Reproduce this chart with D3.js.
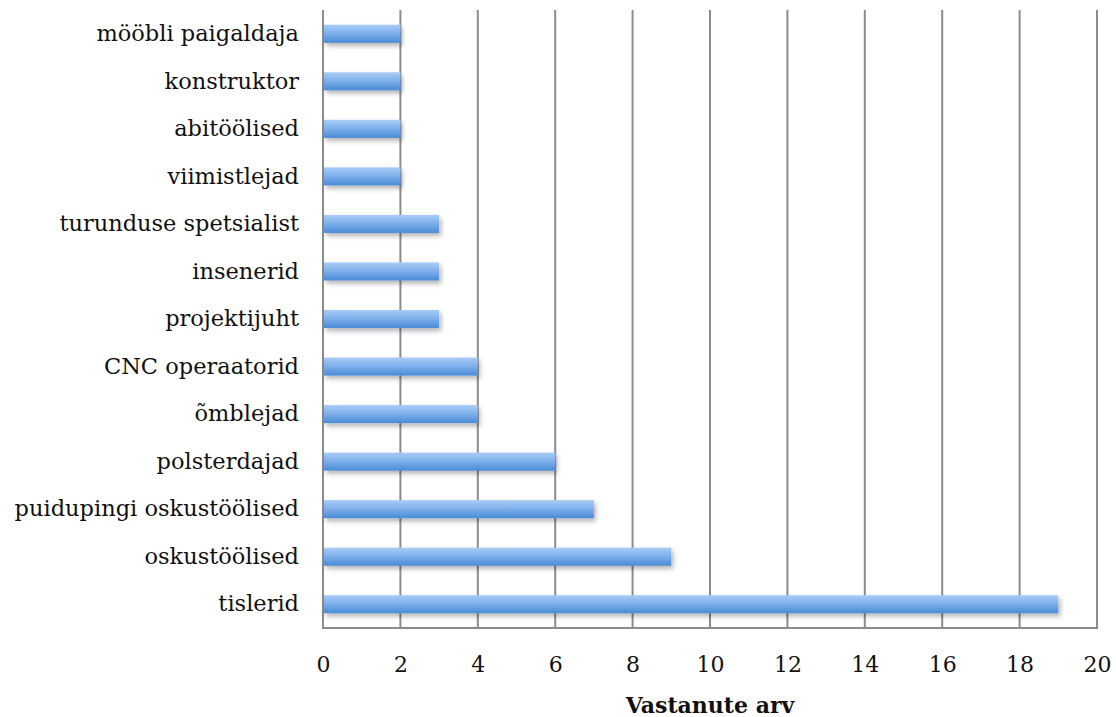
<!DOCTYPE html>
<html>
<head>
<meta charset="utf-8">
<script src="https://cdn.jsdelivr.net/npm/d3@7"></script>
<style>
  html, body { margin: 0; padding: 0; background: #fff; }
  svg { display: block; }
</style>
</head>
<body>
<svg id="chart" width="1116" height="717"></svg>
<script>
// Ametid (ülevalt alla) ja vastanute arv
const categories = [
  "mööbli paigaldaja", "konstruktor", "abitöölised", "viimistlejad",
  "turunduse spetsialist", "insenerid", "projektijuht", "CNC operaatorid",
  "õmblejad", "polsterdajad", "puidupingi oskustöölised", "oskustöölised", "tislerid"
];
const counts = [2, 2, 2, 2, 3, 3, 3, 4, 4, 6, 7, 9, 19];
const xTicks = [0, 2, 4, 6, 8, 10, 12, 14, 16, 18, 20];
const xTitle = "Vastanute arv";

const svg = d3.select("#chart");
const margin = { top: 10, right: 19, bottom: 89, left: 323 };
const W = 1116, H = 717;
const iw = W - margin.left - margin.right;
const ih = H - margin.top - margin.bottom;
const FONT = "'DejaVu Serif', serif";

const defs = svg.append("defs");
const grad = defs.append("linearGradient")
  .attr("id", "barGrad").attr("x1", 0).attr("y1", 0).attr("x2", 0).attr("y2", 1);
grad.append("stop").attr("offset", "0%").attr("stop-color", "#a9ccf6");
grad.append("stop").attr("offset", "45%").attr("stop-color", "#80b1ec");
grad.append("stop").attr("offset", "100%").attr("stop-color", "#4a8bd6");

const shadow = defs.append("filter").attr("id", "barShadow")
  .attr("x", "-5%").attr("y", "-50%").attr("width", "110%").attr("height", "220%");
shadow.append("feDropShadow")
  .attr("dx", 2).attr("dy", 3).attr("stdDeviation", 2.5)
  .attr("flood-color", "#000").attr("flood-opacity", 0.3);

const g = svg.append("g").attr("transform", `translate(${margin.left},${margin.top})`);

const x = d3.scaleLinear().domain([0, 20]).range([0, iw]);
const y = d3.scaleBand().domain(categories).range([0, ih]).paddingInner(0.62).paddingOuter(0.31);

// vertikaalsed ruudujooned
g.append("g")
  .selectAll("line")
  .data(xTicks)
  .join("line")
  .attr("x1", d => x(d)).attr("x2", d => x(d))
  .attr("y1", 0).attr("y2", ih)
  .attr("stroke", "#8c8c8c").attr("stroke-width", 2);

// alumine telg
g.append("line")
  .attr("x1", x(0) - 1).attr("x2", x(20) + 1)
  .attr("y1", ih).attr("y2", ih)
  .attr("stroke", "#8c8c8c").attr("stroke-width", 2);

// tulbad
g.append("g")
  .selectAll("rect")
  .data(categories.map((c, i) => ({ c, v: counts[i] })))
  .join("rect")
  .attr("x", x(0) + 1)
  .attr("y", d => y(d.c))
  .attr("width", d => x(d.v) - x(0) - 1)
  .attr("height", y.bandwidth())
  .attr("fill", "url(#barGrad)")
  .attr("filter", "url(#barShadow)");

// x-telje märgised
const xAxis = d3.axisBottom(x).tickValues(xTicks).tickSize(0).tickPadding(28);
const xa = g.append("g").attr("transform", `translate(0,${ih})`).call(xAxis);
xa.select(".domain").remove();
xa.selectAll("text")
  .attr("font-family", FONT)
  .attr("font-size", 22)
  .attr("fill", "#111");

// y-telje märgised
const yAxis = d3.axisLeft(y).tickSize(0).tickPadding(24);
const ya = g.append("g").call(yAxis);
ya.select(".domain").remove();
ya.selectAll("text")
  .attr("font-family", FONT)
  .attr("font-size", 22.5)
  .attr("fill", "#111");

// telje pealkiri
svg.append("text")
  .attr("x", margin.left + iw / 2)
  .attr("y", 713)
  .attr("text-anchor", "middle")
  .attr("font-family", FONT)
  .attr("font-weight", "bold")
  .attr("font-size", 22)
  .attr("fill", "#111")
  .text(xTitle);
</script>
</body>
</html>
